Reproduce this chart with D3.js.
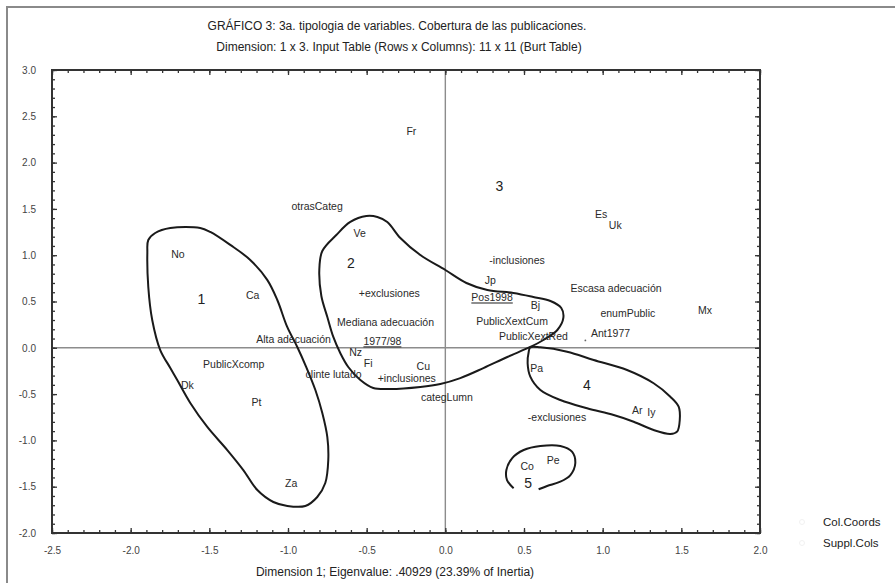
<!DOCTYPE html>
<html>
<head>
<meta charset="utf-8">
<script src="https://cdn.jsdelivr.net/npm/d3@7/dist/d3.min.js"></script>
<style>
  html, body { margin: 0; padding: 0; background: #fff; }
  svg { display: block; font-family: "Liberation Sans", Arial, sans-serif; }
</style>
</head>
<body>
<svg id="chart" width="895" height="583"></svg>
<script>
// ---- Data ----
const titleLines = [
  "GRÁFICO 3: 3a. tipologia de variables. Cobertura de las publicaciones.",
  "Dimension: 1 x 3. Input Table (Rows x Columns): 11 x 11 (Burt Table)"
];
const xAxisTitle = "Dimension 1; Eigenvalue: .40929 (23.39% of Inertia)";
const xTicks = [-2.5, -2.0, -1.5, -1.0, -0.5, 0.0, 0.5, 1.0, 1.5, 2.0];
const yTicks = [-2.0, -1.5, -1.0, -0.5, 0.0, 0.5, 1.0, 1.5, 2.0, 2.5, 3.0];
const legendItems = ["Col.Coords", "Suppl.Cols"];

const pointLabels = ["Fr","otrasCateg","Es","Uk","Ve","No","-inclusiones","Jp","Escasa adecuación",
  "Ca","+exclusiones","Pos1998","Bj","enumPublic","Mx","Mediana adecuación","PublicXextCum",
  "PublicXextRed","Ant1977","Alta adecuación","1977/98","Nz","Fi","PublicXcomp","Cu",
  "clinte lutado","+inclusiones","Pa","Dk","categLumn","Pt","Ar","Iy","-exclusiones","Co","Pe","Za"];
const pointX = [-0.216,-0.815,0.99,1.08,-0.545,-1.70,0.456,0.286,1.085,
  -1.225,-0.356,0.297,0.572,1.16,1.65,-0.38,0.424,
  0.56,1.05,-0.965,-0.40,-0.57,-0.49,-1.345,-0.14,
  -0.71,-0.245,0.58,-1.64,0.01,-1.20,1.22,1.31,0.71,0.52,0.685,-0.98];
const pointY = [2.34,1.53,1.44,1.32,1.24,1.01,0.94,0.73,0.64,
  0.57,0.59,0.54,0.46,0.37,0.40,0.28,0.29,
  0.12,0.16,0.095,0.066,-0.05,-0.17,-0.175,-0.20,
  -0.29,-0.33,-0.22,-0.40,-0.53,-0.59,-0.67,-0.70,-0.75,-1.28,-1.21,-1.46];
const underlined = ["Pos1998", "1977/98"];

const clusterIds = ["1","2","3","4","5"];
const clusterX = [-1.55,-0.60,0.343,0.90,0.526];
const clusterY = [0.53,0.92,1.75,-0.40,-1.46];

const dotX = [0.89];
const dotY = [0.08];

// cluster contours [x, y] in data units
const contour1 = [[-1.844,1.240],[-1.748,1.294],[-1.558,1.294],[-1.494,1.251],[-1.367,1.111],[-1.240,0.949],
  [-1.132,0.733],[-1.068,0.516],[-1.005,0.225],[-0.941,0.009],[-0.884,-0.208],[-0.826,-0.456],[-0.782,-0.704],
  [-0.750,-0.964],[-0.744,-1.212],[-0.763,-1.460],[-0.814,-1.611],[-0.890,-1.708],[-1.004,-1.708],[-1.093,-1.665],
  [-1.195,-1.536],[-1.284,-1.320],[-1.386,-1.104],[-1.513,-0.855],[-1.621,-0.596],[-1.704,-0.348],[-1.748,-0.218],
  [-1.812,-0.024],[-1.863,0.300],[-1.888,0.657],[-1.894,1.024],[-1.888,1.164]];
const contour2 = [[-0.782,1.045],[-0.693,1.218],[-0.604,1.359],[-0.502,1.423],[-0.432,1.413],[-0.369,1.359],
  [-0.286,1.186],[-0.159,1.002],[0.000,0.840],[0.134,0.700],[0.267,0.624],[0.432,0.592],[0.559,0.549],
  [0.668,0.505],[0.737,0.430],[0.750,0.322],[0.712,0.192],[0.623,0.084],[0.540,0.009],[0.394,-0.099],
  [0.242,-0.219],[0.095,-0.327],[-0.032,-0.391],[-0.159,-0.423],[-0.350,-0.445],[-0.458,-0.434],
  [-0.540,-0.348],[-0.617,-0.207],[-0.668,-0.056],[-0.712,0.117],[-0.750,0.333],[-0.788,0.559],[-0.801,0.840]];
const contour4 = [[0.540,0.005],[0.604,0.005],[0.774,-0.042],[0.943,-0.132],[1.155,-0.240],[1.324,-0.383],
  [1.430,-0.528],[1.483,-0.636],[1.490,-0.780],[1.473,-0.906],[1.430,-0.931],[1.324,-0.888],[1.197,-0.798],
  [1.070,-0.726],[0.901,-0.653],[0.731,-0.564],[0.604,-0.456],[0.540,-0.312],[0.523,-0.167],[0.530,-0.042]];
const contour5 = [[0.434,-1.517],[0.392,-1.428],[0.388,-1.320],[0.424,-1.193],[0.498,-1.104],[0.604,-1.060],
  [0.731,-1.060],[0.805,-1.122],[0.826,-1.247],[0.795,-1.374],[0.731,-1.446],[0.647,-1.492],[0.593,-1.528]];

// ---- Layout ----
const svg = d3.select("#chart");
const L = 52, R = 760, T = 70, B = 533;
const x = d3.scaleLinear().domain([-2.5, 2.0]).range([L, R]);
const y = d3.scaleLinear().domain([-2.0, 3.0]).range([B, T]);

// outer figure frame (only top & left visible)
svg.append("path").attr("d", `M7,${583+5} V7 H${895+5}`)
  .attr("fill", "none").attr("stroke", "#8a8a8a").attr("stroke-width", 2);

// titles
svg.append("text").attr("x", 397).attr("y", 30).attr("text-anchor", "middle")
  .attr("font-size", 12).attr("fill", "#222").text(titleLines[0]);
svg.append("text").attr("x", 399).attr("y", 51).attr("text-anchor", "middle")
  .attr("font-size", 12).attr("fill", "#222").text(titleLines[1]);
svg.append("text").attr("x", 395).attr("y", 576).attr("text-anchor", "middle")
  .attr("font-size", 12).attr("fill", "#222").text(xAxisTitle);

// zero lines
svg.append("line").attr("x1", x(0)).attr("x2", x(0)).attr("y1", T).attr("y2", B)
  .attr("stroke", "#8c8c8c").attr("stroke-width", 1.4);
svg.append("line").attr("x1", L).attr("x2", R).attr("y1", y(0)).attr("y2", y(0))
  .attr("stroke", "#8c8c8c").attr("stroke-width", 1.4);

// ticks
const minorX = d3.range(-25, 21).map(i => i / 10);
const minorY = d3.range(-20, 31).map(i => i / 10);
const fmt = d => d.toFixed(1);

function styleAxis(g) {
  g.select(".domain").remove();
  g.selectAll(".tick line").attr("stroke", "#333").attr("stroke-width", 1.3);
  g.selectAll(".tick text").attr("fill", "#444").attr("font-size", 10)
    .attr("font-family", "Liberation Sans, Arial, sans-serif");
}
// minor ticks
svg.append("g").attr("transform", `translate(0,${B})`)
  .call(d3.axisBottom(x).tickValues(minorX).tickSize(-3).tickFormat("")).call(styleAxis);
svg.append("g").attr("transform", `translate(0,${T})`)
  .call(d3.axisTop(x).tickValues(minorX).tickSize(-3).tickFormat("")).call(styleAxis);
svg.append("g").attr("transform", `translate(${L},0)`)
  .call(d3.axisLeft(y).tickValues(minorY).tickSize(-3).tickFormat("")).call(styleAxis);
svg.append("g").attr("transform", `translate(${R},0)`)
  .call(d3.axisRight(y).tickValues(minorY).tickSize(-3).tickFormat("")).call(styleAxis);
// major ticks with labels
svg.append("g").attr("transform", `translate(0,${B})`)
  .call(d3.axisBottom(x).tickValues(xTicks).tickSize(-5).tickPadding(14).tickFormat(fmt)).call(styleAxis);
svg.append("g").attr("transform", `translate(${L},0)`)
  .call(d3.axisLeft(y).tickValues(yTicks).tickSize(-5).tickPadding(16).tickFormat(fmt)).call(styleAxis);
svg.append("g").attr("transform", `translate(0,${T})`)
  .call(d3.axisTop(x).tickValues(xTicks).tickSize(-5).tickFormat("")).call(styleAxis);
svg.append("g").attr("transform", `translate(${R},0)`)
  .call(d3.axisRight(y).tickValues(yTicks).tickSize(-5).tickFormat("")).call(styleAxis);

// plot frame
svg.append("rect").attr("x", L).attr("y", T).attr("width", R - L).attr("height", B - T)
  .attr("fill", "none").attr("stroke", "#333").attr("stroke-width", 2);

// contours
const closedLine = d3.line().x(d => x(d[0])).y(d => y(d[1])).curve(d3.curveCatmullRomClosed.alpha(0.5));
const openLine = d3.line().x(d => x(d[0])).y(d => y(d[1])).curve(d3.curveCatmullRom.alpha(0.5));
[contour1, contour2, contour4].forEach(c => {
  svg.append("path").attr("d", closedLine(c)).attr("fill", "none")
    .attr("stroke", "#1a1a1a").attr("stroke-width", 2);
});
svg.append("path").attr("d", openLine(contour5)).attr("fill", "none")
  .attr("stroke", "#1a1a1a").attr("stroke-width", 2);

// small marker dot
svg.selectAll(".dot").data(dotX).enter().append("circle")
  .attr("cx", (d, i) => x(d)).attr("cy", (d, i) => y(dotY[i])).attr("r", 0.9).attr("fill", "#666");

// point labels
svg.selectAll(".plabel").data(pointLabels).enter().append("text")
  .attr("class", "plabel")
  .attr("x", (d, i) => x(pointX[i])).attr("y", (d, i) => y(pointY[i]))
  .attr("dy", "0.35em").attr("text-anchor", "middle")
  .attr("font-size", 10.5).attr("fill", "#2a2a2a")
  .style("text-decoration", d => underlined.includes(d) ? "underline" : null)
  .text(d => d);

// cluster numbers
svg.selectAll(".clabel").data(clusterIds).enter().append("text")
  .attr("x", (d, i) => x(clusterX[i])).attr("y", (d, i) => y(clusterY[i]))
  .attr("dy", "0.35em").attr("text-anchor", "middle")
  .attr("font-size", 14).attr("fill", "#222").text(d => d);

// legend
legendItems.forEach((t, i) => {
  const ly = 522 + i * 21;
  svg.append("circle").attr("cx", 802).attr("cy", ly).attr("r", 2.5)
    .attr("fill", "#fff").attr("stroke", "#eee").attr("stroke-width", 0.8);
  svg.append("text").attr("x", 823).attr("y", ly).attr("dy", "0.35em")
    .attr("font-size", 11.5).attr("fill", "#222").text(t);
});
</script>
</body>
</html>
